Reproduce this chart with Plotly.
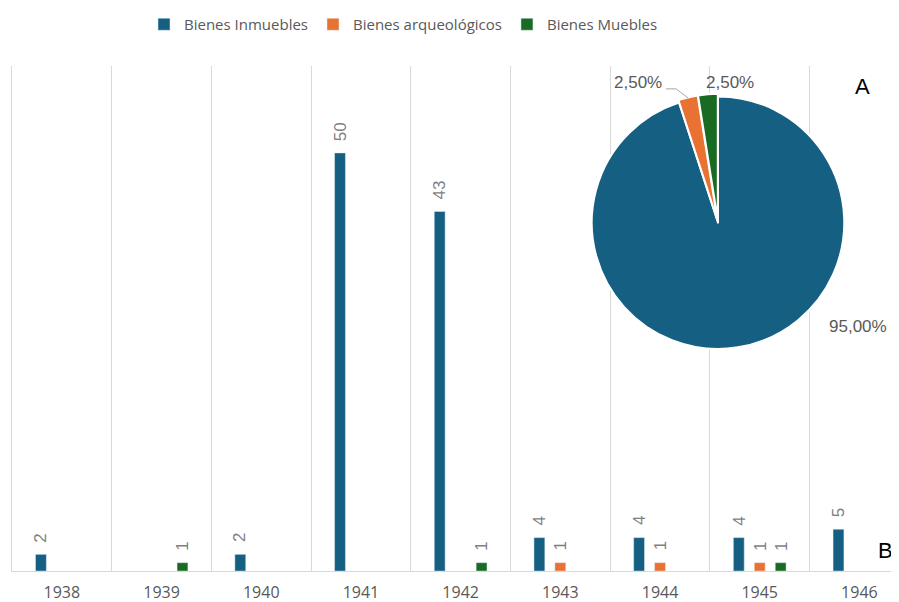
import plotly.graph_objects as go

OFF = 8  # page body margin in the browser
W, H = 899 - OFF, 602 - OFF

years = ["1938", "1939", "1940", "1941", "1942", "1943", "1944", "1945", "1946"]
inmuebles = [2, None, 2, 50, 43, 4, 4, 4, 5]
arqueologicos = [None, None, None, None, None, 1, 1, 1, None]
muebles = [None, 1, None, None, 1, None, None, 1, None]

series_names = ["Bienes Inmuebles", "Bienes arqueológicos", "Bienes Muebles"]
colors = ["#156082", "#E97132", "#196B24"]
label_xshift = [-21, 0, 21]

pie_values = [sum(v for v in s if v) for s in (inmuebles, arqueologicos, muebles)]
total = sum(pie_values)
pie_pcts = [f"{100 * v / total:.2f}".replace(".", ",") + "%" for v in pie_values]


def px(x):
    return (x - OFF) / W


def py(y):
    return 1 - (y - OFF) / H


fig = go.Figure()
all_series = [inmuebles, arqueologicos, muebles]
for name, vals, col in zip(series_names, all_series, colors):
    fig.add_trace(go.Bar(x=years, y=vals, name=name, marker_color=col))

for vals, xs in zip(all_series, label_xshift):
    for i, v in enumerate(vals):
        if v:
            fig.add_annotation(x=i, y=v, xref="x", yref="y", text=str(v),
                               textangle=-90, showarrow=False, yanchor="bottom",
                               xanchor="center", xshift=xs, yshift=10,
                               font=dict(size=17, color="#7f7f7f", family="Liberation Sans"))

fig.add_trace(go.Pie(
    values=pie_values, labels=series_names, sort=False, direction="clockwise",
    rotation=0, marker=dict(colors=colors, line=dict(color="white", width=2)),
    textinfo="none", showlegend=False, hoverinfo="label+percent",
    pull=[0, 0.02, 0.02],
    domain=dict(x=[px(589), px(847)], y=[py(351), py(93)]),
))

fig.update_layout(
    width=W, height=H,
    margin=dict(l=0, r=0, t=0, b=0),
    paper_bgcolor="white", plot_bgcolor="white",
    barmode="group", bargap=0.37, bargroupgap=0.48,
    font=dict(family="Open Sans", color="#595959"),
    legend=dict(orientation="h", x=px(144), xanchor="left", y=py(24), yanchor="middle",
                font=dict(size=15, color="#595959"), itemwidth=30,
                traceorder="normal"),
    xaxis=dict(domain=[px(12), 1], range=[-0.5, 8.397], type="category",
               tickson="boundaries", showgrid=True, gridcolor="#d9d9d9", gridwidth=1,
               showline=True, linecolor="#d9d9d9", ticks="",
               tickfont=dict(size=16, color="#595959"), ticklabelstandoff=7),
    yaxis=dict(domain=[py(571), py(65)], range=[0, 60.4], showgrid=False,
               zeroline=False, showticklabels=False, showline=True,
               linecolor="#d9d9d9", ticks=""),
)

annots = [
    dict(x=px(638), y=py(82), text=pie_pcts[1]),
    dict(x=px(730), y=py(82), text=pie_pcts[2]),
    dict(x=px(858), y=py(326), text=pie_pcts[0]),
]
for a in annots:
    fig.add_annotation(xref="paper", yref="paper", showarrow=False,
                       xanchor="center", yanchor="middle",
                       font=dict(size=17, color="#595959", family="Liberation Sans"), **a)

fig.add_annotation(xref="paper", yref="paper", x=px(862), y=py(86), text="A",
                   showarrow=False, xanchor="center", yanchor="middle",
                   font=dict(size=22, color="#000000", family="Liberation Sans"))
fig.add_annotation(xref="paper", yref="paper", x=px(885), y=py(550), text="B",
                   showarrow=False, xanchor="center", yanchor="middle",
                   font=dict(size=22, color="#000000", family="Liberation Sans"))

fig.add_shape(type="path", xref="paper", yref="paper",
              path=f"M {px(666)} {py(88)} L {px(676)} {py(88)} L {px(688)} {py(97)}",
              line=dict(color="#a6a6a6", width=1))

fig.write_html("out.html")
